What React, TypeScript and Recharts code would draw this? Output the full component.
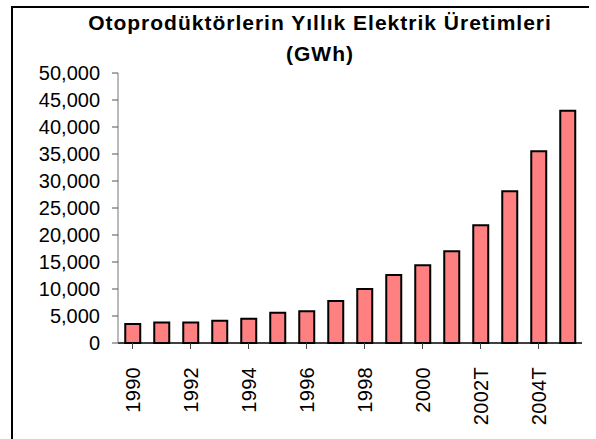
import { BarChart, Bar, XAxis, YAxis } from 'recharts';

const years = ['1990', '1991', '1992', '1993', '1994', '1995', '1996', '1997', '1998', '1999', '2000', '2001', '2002T', '2003T', '2004T', '2005T'];
const production = [3500, 3800, 3800, 4100, 4500, 5600, 5900, 7800, 10000, 12600, 14400, 17000, 21800, 28100, 35500, 43000];
const yTicks = [0, 5000, 10000, 15000, 20000, 25000, 30000, 35000, 40000, 45000, 50000];

const data = years.map((year, i) => ({ year, value: production[i] }));

const font = '"Liberation Sans", Arial, sans-serif';

function YearTick({ x, y, payload }: any) {
  return (
    <text
      transform={`translate(${x},${y + 16}) rotate(-90)`}
      textAnchor="end"
      dominantBaseline="central"
      fontSize={20}
      fontFamily={font}
      fill="#000"
      letterSpacing={0.3}
    >
      {payload.value}
    </text>
  );
}

export default function App() {
  return (
    <div style={{ position: 'absolute', left: 0, top: 0, width: 596, height: 439, background: '#fff', fontFamily: font }}>
      <div style={{ position: 'absolute', left: 11, top: 6, width: 578, height: 2, background: '#000' }} />
      <div style={{ position: 'absolute', left: 11, top: 6, width: 2, height: 433, background: '#000' }} />
      <div
        style={{
          position: 'absolute',
          left: 20,
          width: 600,
          top: 7,
          textAlign: 'center',
          fontWeight: 'bold',
          fontSize: 21,
          letterSpacing: 1,
          lineHeight: '31px',
          color: '#000',
        }}
      >
        <div>Otoprodüktörlerin Yıllık Elektrik Üretimleri</div>
        <div>(GWh)</div>
      </div>
      <BarChart
        width={596}
        height={439}
        data={data}
        margin={{ top: 73, right: 14, left: 18, bottom: 36 }}
        barCategoryGap="25%"
        style={{ position: 'absolute', left: 0, top: 0 }}
      >
        <XAxis
          dataKey="year"
          interval={1}
          tickSize={6}
          height={60}
          tick={<YearTick />}
          axisLine={{ stroke: '#000', strokeWidth: 1.5 }}
          tickLine={{ stroke: '#444' }}
        />
        <YAxis
          width={100}
          domain={[0, 50000]}
          ticks={yTicks}
          interval={0}
          tickSize={6}
          tickMargin={12}
          tickFormatter={(v: number) => v.toLocaleString('en-US')}
          tick={{ fontSize: 20, fill: '#000', fontFamily: font }}
          axisLine={{ stroke: '#777' }}
          tickLine={{ stroke: '#555' }}
        />
        <Bar dataKey="value" fill="#FF8080" stroke="#000" strokeWidth={2} isAnimationActive={false} />
      </BarChart>
    </div>
  );
}
